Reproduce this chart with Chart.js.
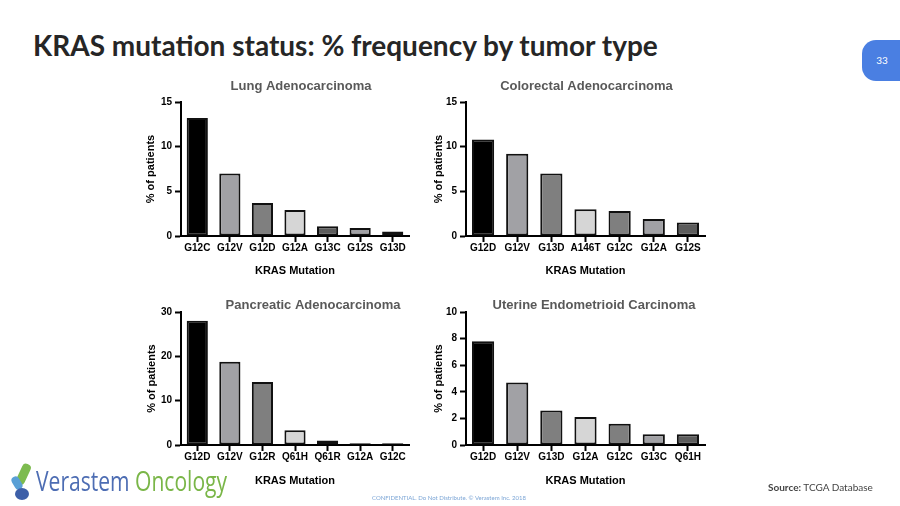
<!DOCTYPE html>
<html>
<head>
<meta charset="utf-8">
<script src="https://cdn.jsdelivr.net/npm/chart.js@4.4.1/dist/chart.umd.min.js"></script>
<style>
  html, body { margin: 0; padding: 0; background: #fff; }
  body { width: 900px; height: 506px; position: relative; overflow: hidden; font-family: 'Liberation Sans', Arial, sans-serif; }
  canvas { position: absolute; }
  #slideTitle { position: absolute; left: 33px; top: 28px; font-family: Lato, 'Open Sans', sans-serif; font-weight: bold; font-size: 28px; color: #262626; white-space: nowrap; }
  #badge { position: absolute; left: 862px; top: 40px; width: 40px; height: 41px; background: #4a7fe2; border-radius: 14px 0 0 14px; color: #fff; font-family: Lato, sans-serif; font-size: 10px; line-height: 41px; text-align: center; }
  #logo { position: absolute; left: 10px; top: 462px; width: 240px; height: 40px; }
  #logoText { position: absolute; left: 36px; top: 464px; font-family: 'Open Sans', sans-serif; font-size: 27px; white-space: nowrap; transform: scaleX(0.78); transform-origin: left top; line-height: 34px; }
  #confidential { position: absolute; left: 372px; top: 494px; font-family: Lato, sans-serif; font-size: 6px; color: #7da6d6; white-space: nowrap; }
  #source { position: absolute; left: 768px; top: 481px; font-family: Lato, sans-serif; font-size: 10px; color: #444; white-space: nowrap; }
</style>
</head>
<body>
<div id="slideTitle">KRAS mutation status: % frequency by tumor type</div>
<div id="badge">33</div>

<canvas id="lung" width="362" height="210" style="left:120px; top:76px;"></canvas>
<canvas id="colorectal" width="343" height="210" style="left:415px; top:76px;"></canvas>
<canvas id="pancreatic" width="386" height="200" style="left:120px; top:295px;"></canvas>
<canvas id="uterine" width="358" height="200" style="left:415px; top:295px;"></canvas>

<svg id="logo" viewBox="0 0 240 40">
  <rect x="9" y="1" width="9" height="22" rx="4" fill="#7dbb4f" transform="rotate(25 13 12)"/>
  <rect x="3" y="14" width="8" height="14" rx="4" fill="#5aa0d6" transform="rotate(-30 7 21)"/>
  <ellipse cx="12" cy="32" rx="7" ry="6" fill="#3d5fa8"/>
</svg>
<div id="logoText"><span style="color:#4d6db3">Verastem</span> <span style="color:#7ab648">Oncology</span></div>
<div id="confidential">CONFIDENTIAL. Do Not Distribute. © Verastem Inc. 2018</div>
<div id="source"><b>Source:</b> TCGA Database</div>

<script>
// % of patients per KRAS mutation
const lungLabels = ['G12C', 'G12V', 'G12D', 'G12A', 'G13C', 'G12S', 'G13D'];
const lungValues = [13.2, 7.0, 3.7, 2.9, 1.1, 0.9, 0.5];

const colorectalLabels = ['G12D', 'G12V', 'G13D', 'A146T', 'G12C', 'G12A', 'G12S'];
const colorectalValues = [10.8, 9.2, 7.0, 3.0, 2.8, 1.9, 1.5];

const pancreaticLabels = ['G12D', 'G12V', 'G12R', 'Q61H', 'Q61R', 'G12A', 'G12C'];
const pancreaticValues = [28.0, 18.8, 14.2, 3.3, 1.0, 0.4, 0.4];

const uterineLabels = ['G12D', 'G12V', 'G13D', 'G12A', 'G12C', 'G13C', 'Q61H'];
const uterineValues = [7.8, 4.7, 2.6, 2.1, 1.6, 0.8, 0.8];

// y axis ranges
const lungTicks = { max: 15, step: 5 };
const colorectalTicks = { max: 15, step: 5 };
const pancreaticTicks = { max: 30, step: 10 };
const uterineTicks = { max: 10, step: 2 };

const BLACK = '#000000', LIGHT = '#a1a1a5', MID = '#7f7f7f', PALE = '#d6d6d6', DARK = '#5c5c5c';

Chart.defaults.font.family = "'Liberation Sans', Arial, sans-serif";
Chart.defaults.color = '#000';

function kras_chart(id, title, labels, values, colors, ticks, lay) {
    return new Chart(document.getElementById(id).getContext('2d'), {
        type: 'bar',
        data: {
            labels: labels,
            datasets: [{
                label: title,
                data: values,
                backgroundColor: colors,
                borderColor: '#111',
                borderWidth: 2,
                borderSkipped: false,
                barPercentage: 0.65,
                categoryPercentage: 1
            }]
        },
        options: {
            responsive: false,
            animation: false,
            devicePixelRatio: 1,
            layout: { padding: 0 },
            plugins: {
                legend: { display: false },
                tooltip: { enabled: false },
                title: {
                    display: true,
                    text: title,
                    color: '#595959',
                    font: { size: 13, weight: 'bold', lineHeight: 1 },
                    padding: { top: 4, bottom: lay.titleGap }
                }
            },
            scales: {
                x: {
                    grid: { drawOnChartArea: false, offset: false, tickLength: 6, tickColor: '#000', tickWidth: 2 },
                    border: { color: '#000', width: 2 },
                    ticks: { padding: 0, font: { size: 10, weight: 'bold' }, maxRotation: 0, autoSkip: false },
                    title: {
                        display: true,
                        text: 'KRAS Mutation',
                        font: { size: 11, weight: 'bold' },
                        padding: { top: 0, bottom: lay.xTitleBottom }
                    },
                    afterFit: function(s) { s.height = 50; }
                },
                y: {
                    min: 0,
                    max: ticks.max,
                    grid: { drawOnChartArea: false, tickLength: 6, tickColor: '#000', tickWidth: 2 },
                    border: { color: '#000', width: 2 },
                    ticks: { stepSize: ticks.step, padding: 3, font: { size: 10, weight: 'bold' } },
                    title: {
                        display: true,
                        text: '% of patients',
                        font: { size: 11, weight: 'bold' },
                        padding: { top: lay.yTitlePad, bottom: 0 }
                    },
                    afterFit: function(s) { s.width = lay.yWidth; }
                },
                // empty right-hand spacer so the title sits where it does on the slide
                pad: {
                    position: 'right',
                    display: true,
                    grid: { display: false },
                    border: { display: false },
                    ticks: { display: false },
                    afterFit: function(s) { s.width = lay.padRight; }
                }
            }
        }
    });
}

kras_chart('lung', 'Lung Adenocarcinoma', lungLabels, lungValues,
    [BLACK, LIGHT, MID, PALE, DARK, LIGHT, DARK], lungTicks,
    { titleGap: 9, xTitleBottom: 8, yWidth: 61, yTitlePad: 24, padRight: 73 });

kras_chart('colorectal', 'Colorectal Adenocarcinoma', colorectalLabels, colorectalValues,
    [BLACK, LIGHT, MID, PALE, MID, LIGHT, DARK], colorectalTicks,
    { titleGap: 9, xTitleBottom: 8, yWidth: 51, yTitlePad: 17, padRight: 53 });

kras_chart('pancreatic', 'Pancreatic Adenocarcinoma', pancreaticLabels, pancreaticValues,
    [BLACK, LIGHT, MID, PALE, DARK, LIGHT, DARK], pancreaticTicks,
    { titleGap: 0, xTitleBottom: 7, yWidth: 61, yTitlePad: 25, padRight: 97 });

kras_chart('uterine', 'Uterine Endometrioid Carcinoma', uterineLabels, uterineValues,
    [BLACK, LIGHT, MID, PALE, MID, LIGHT, DARK], uterineTicks,
    { titleGap: 0, xTitleBottom: 7, yWidth: 51, yTitlePad: 17, padRight: 68 });
</script>
</body>
</html>
